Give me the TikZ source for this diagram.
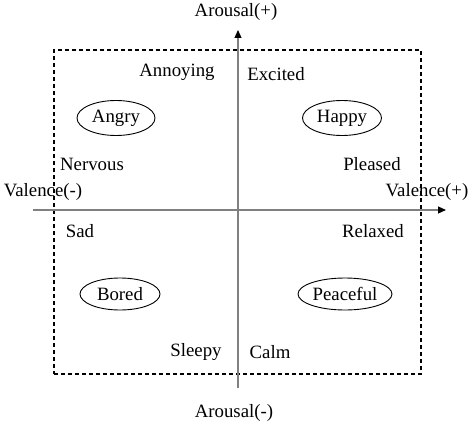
\documentclass[tikz,border=0pt]{standalone}
\usepackage{fontspec}
\setmainfont{Liberation Serif}
\usetikzlibrary{shapes.geometric,arrows.meta}
\begin{document}
\begin{tikzpicture}[x=1pt,y=-1pt,
  lbl/.style={font=\fontsize{18.8}{21}\selectfont, inner sep=0pt},
  emo/.style={ellipse, draw, line width=0.9pt, font=\fontsize{18.8}{21}\selectfont, inner sep=0pt, minimum height=35pt},
  axis/.style={draw=black!50, line width=1.1pt, -{Triangle[length=8pt,width=7pt,color=black]}},
  frame/.style={draw, line width=1.1pt, dash pattern=on 4pt off 3pt}]
\useasboundingbox (0,0) rectangle (473,425);
\node[frame, minimum width=367pt, minimum height=324pt, inner sep=0pt] (box) at (237.5,212) {};
\coordinate (xs) at (33,210);
\coordinate (xe) at (446,210);
\coordinate (ys) at (238,388);
\coordinate (ye) at (238,30);
\draw[axis] (xs) -- (xe);
\draw[axis] (ys) -- (ye);
\node[lbl] (ap) at (236,12) {Arousal(+)};
\node[lbl] (am) at (234,413) {Arousal(-)};
\node[lbl] (vm) at (43,192) {Valence(-)};
\node[lbl] (vp) at (427,192) {Valence(+)};
\node[lbl] (annoying) at (177,72) {Annoying};
\node[lbl] (excited) at (276,74) {Excited};
\node[emo, minimum width=78pt] (angry) at (116,118) {Angry};
\node[emo, minimum width=79pt] (happy) at (342,118) {Happy};
\node[lbl] (nervous) at (92,164) {Nervous};
\node[lbl] (pleased) at (372,164) {Pleased};
\node[lbl] (sad) at (80,231) {Sad};
\node[lbl] (relaxed) at (373,231) {Relaxed};
\node[emo, minimum width=80pt, minimum height=32pt] (bored) at (120,294) {Bored};
\node[emo, minimum width=94pt, minimum height=32pt] (peaceful) at (345,294) {Peaceful};
\node[lbl] (sleepy) at (196,352) {Sleepy};
\node[lbl] (calm) at (270,352) {Calm};
\end{tikzpicture}
\end{document}
